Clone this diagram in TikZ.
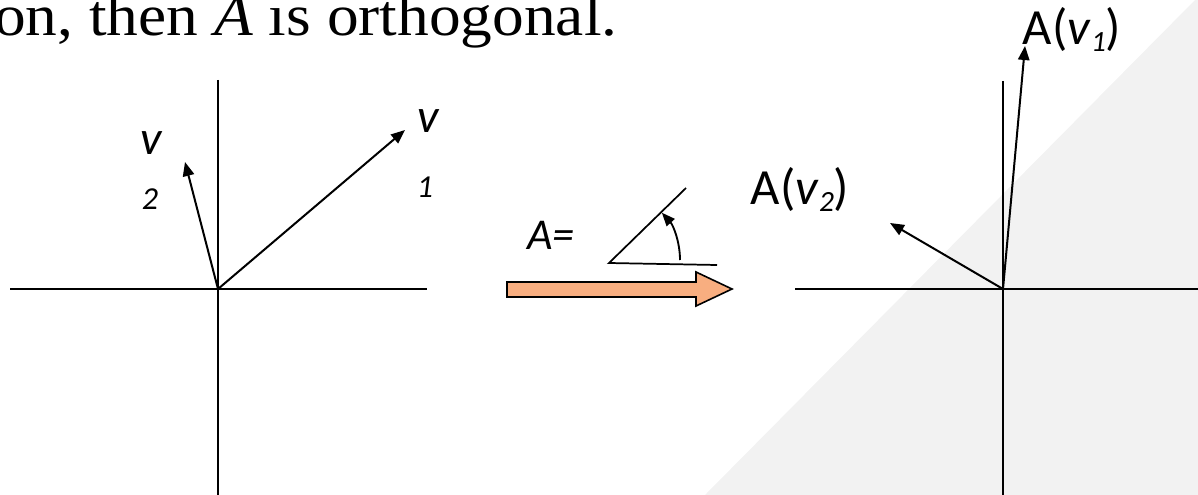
\documentclass[tikz,border=0pt]{standalone}
\usepackage{fontspec}
\setmainfont{Liberation Serif}
\newfontfamily\calfont{Carlito}
\usetikzlibrary{arrows.meta}
\definecolor{bggray}{HTML}{F2F2F2}
\definecolor{arrorange}{HTML}{F8AE80}
\begin{document}
\begin{tikzpicture}[x=0.75pt,y=-0.75pt,
  axis/.style={line width=1.5pt,black},
  vec/.style={line width=1.5pt,black,-{Triangle[length=10.5pt,width=8.5pt]}},
  lbl/.style={inner sep=0pt,font=\calfont\fontsize{36}{36}\selectfont\itshape},
  sublbl/.style={inner sep=0pt,font=\calfont\fontsize{24}{24}\selectfont\itshape},
  albl/.style={inner sep=0pt,font=\calfont\fontsize{38}{38}\selectfont}]
\useasboundingbox (0,0) rectangle (1198,495);
% grey background triangle
\fill[bggray] (705,495) -- (1195,0) -- (1198,0) -- (1198,495) -- cycle;
% title text
\node[anchor=base west,inner sep=0pt,font=\fontsize{44}{44}\selectfont] (title) at (-6,36) {\scalebox{1.08}[1]{on, then \textit{A} ıs orthogonal.}};
% left axes
\coordinate (O1) at (218,289);
\draw[axis] (218,80) -- (218,495);
\draw[axis] (10,289) -- (427,289);
\coordinate (V1) at (405,130);
\coordinate (V2) at (185,162);
\draw[vec] (O1) -- (V1);
\draw[vec] (O1) -- (V2);
\node[lbl] (v1v) at (428,121) {v};
\node[sublbl] (v1s) at (425,187) {1};
\node[lbl] (v2v) at (151,143) {v};
\node[sublbl] (v2s) at (150,199) {2};
% middle
\node[inner sep=0pt,font=\calfont\fontsize{33}{33}\selectfont\itshape] (Aeq) at (551,235) {A=};
\coordinate (AV) at (609,263);
\draw[line width=1.3pt] (717,265) -- (AV) -- (686,188);
\draw[line width=1.4pt,-{Triangle[length=10pt,width=8pt]}] (680,260) arc[start angle=0,end angle=42,radius=53pt];
\draw[line width=1.2pt,fill=arrorange] (507,282) -- (696,282) -- (696,272) -- (732,289) -- (696,306) -- (696,297) -- (507,297) -- cycle;
% right axes
\coordinate (O2) at (1003,289);
\draw[axis] (1003,81) -- (1003,495);
\draw[axis] (795,289) -- (1198,289);
\coordinate (W1) at (1025,46);
\coordinate (W2) at (890,223);
\draw[vec] (O2) -- (W1);
\draw[vec] (O2) -- (W2);
\node[albl,anchor=base] (Av1) at (1072,45) {A(\textit{v}\raisebox{-5pt}{\fontsize{22}{22}\selectfont\itshape 1})};
\node[albl,anchor=base] (Av2) at (800,205) {A(\textit{v}\raisebox{-5pt}{\fontsize{22}{22}\selectfont\itshape 2})};
\end{tikzpicture}
\end{document}
